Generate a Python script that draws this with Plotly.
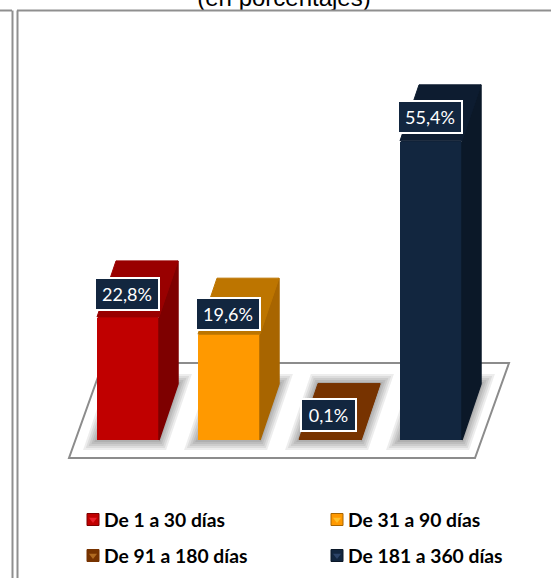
import plotly.graph_objects as go

categories = ["De 1 a 30 días", "De 31 a 90 días", "De 91 a 180 días", "De 181 a 360 días"]
values = [22.8, 19.6, 0.1, 55.4]
value_labels = ["22,8%", "19,6%", "0,1%", "55,4%"]
front_colors = ["#c00000", "#ff9900", "#773300", "#12263f"]
side_colors = ["#7e0000", "#a86500", "#773300", "#0b1828"]
top_colors = ["#990000", "#bd7500", "#773300", "#0d1c30"]
glint_colors = ["#e8202a", "#ffc02a", "#b06a20", "#2c4468"]
title_text = "(en porcentajes)"

W, H = 551, 578
X0_PX, STEP_PX = 128.0, 101.0     # centre of first bar, spacing
Y0_PX, UNIT_PX = 440.0, 5.4       # baseline, px per percentage point
BAR_W = 62.0 / STEP_PX
DX = 19.0 / STEP_PX               # pseudo-3D depth
DY = 56.0 / UNIT_PX


def px_x(p):
    return (p - X0_PX) / STEP_PX


def px_y(p):
    return (Y0_PX - p) / UNIT_PX


fig = go.Figure()
shapes = []

# floor
shapes.append(dict(type="path", layer="below", xref="x", yref="y",
                   path=f"M{px_x(69)},{px_y(458)} L{px_x(475)},{px_y(458)} L{px_x(509)},{px_y(363)} L{px_x(103)},{px_y(363)} Z",
                   fillcolor="white", line=dict(color="#8c8c8c", width=2)))

label_shift = [23, 20, 24, 24]
label_xshift = [-1.5, -1.5, -2, -1.5]
label_width = [62, 62, 53, 62]
annotations = []

for i, (cat, v) in enumerate(zip(categories, values)):
    x0, x1 = i - BAR_W / 2, i + BAR_W / 2
    foot = f"M{x0},0 L{x1},0 L{x1 + DX},{DY} L{x0 + DX},{DY} Z"
    for w in (20, 16, 12, 8, 4):
        shapes.append(dict(type="path", layer="below", xref="x", yref="y", path=foot,
                           fillcolor="rgba(0,0,0,0.07)",
                           line=dict(color="rgba(0,0,0,0.07)", width=w)))
    fig.add_trace(go.Scatter(
        x=[x1, x1 + DX, x1 + DX, x1, x1], y=[0, DY, v + DY, v, 0],
        mode="lines", fill="toself", fillcolor=side_colors[i],
        line=dict(color=side_colors[i], width=1.5), hoverinfo="skip", showlegend=False))
    fig.add_trace(go.Scatter(
        x=[x0, x1, x1 + DX, x0 + DX, x0], y=[v, v, v + DY, v + DY, v],
        mode="lines", fill="toself", fillcolor=top_colors[i],
        line=dict(color=top_colors[i], width=1), hoverinfo="skip", showlegend=False))
    fig.add_trace(go.Bar(x=[i], y=[v], width=BAR_W, name=cat, showlegend=False,
                         marker=dict(color=front_colors[i], cornerradius=3, line=dict(width=0))))
    annotations.append(dict(x=i, y=v, xref="x", yref="y", text=value_labels[i], showarrow=False,
                            xshift=label_xshift[i], yshift=label_shift[i],
                            width=label_width[i], height=30,
                            font=dict(family="Lato", size=18, color="white"),
                            bgcolor="#12263f", bordercolor="white", borderwidth=2, borderpad=0))

# legend
leg_x = [px_x(93), px_x(337), px_x(93), px_x(337)]
leg_y = [px_y(519.5), px_y(519.5), px_y(555.5), px_y(555.5)]
for i, cat in enumerate(categories):
    fig.add_trace(go.Scatter(x=[leg_x[i]], y=[leg_y[i]], mode="markers", hoverinfo="skip", showlegend=False,
                             marker=dict(symbol="square", size=12, color=front_colors[i],
                                         line=dict(color=side_colors[i], width=1))))
    fig.add_trace(go.Scatter(x=[leg_x[i]], y=[leg_y[i]], mode="markers", hoverinfo="skip", showlegend=False,
                             marker=dict(symbol="triangle-down", size=7, color=glint_colors[i], line=dict(width=0))))
    annotations.append(dict(x=leg_x[i], y=leg_y[i], xref="x", yref="y", text=f"<b>{cat}</b>",
                            showarrow=False, xanchor="left", xshift=8.5,
                            font=dict(family="Lato", size=19.3, color="black")))

# title, cut by the page top and by the frame line as in the reference
fig.add_trace(go.Scatter(x=[px_x(284)], y=[px_y(12)], mode="text", text=[title_text],
                         textposition="top center", cliponaxis=False, hoverinfo="skip", showlegend=False,
                         textfont=dict(family="Liberation Sans", size=24, color="black")))
shapes.append(dict(type="rect", xref="paper", yref="paper", layer="above",
                   x0=180 / W, x1=390 / W, y0=1 - 24 / H, y1=1 - 11 / H,
                   fillcolor="white", line=dict(width=0)))

# page frame
frame = "#8f8f8f"
for x0, y0, x1, y1 in [(0, 10.5, 12, 10.5), (12.5, 10.5, 12.5, 578), (17.5, 10.5, 17.5, 578), (17, 10.5, 551, 10.5)]:
    shapes.append(dict(type="line", xref="paper", yref="paper", layer="above",
                       x0=x0 / W, x1=x1 / W, y0=1 - y0 / H, y1=1 - y1 / H,
                       line=dict(color=frame, width=2)))

fig.update_layout(
    width=W, height=H, margin=dict(l=0, r=0, t=0, b=0),
    paper_bgcolor="white", plot_bgcolor="white", showlegend=False, bargap=0,
    xaxis=dict(visible=False, range=[px_x(0), px_x(W)], fixedrange=True),
    yaxis=dict(visible=False, range=[px_y(H), px_y(0)], fixedrange=True),
    shapes=shapes, annotations=annotations,
)
fig.write_html("out.html", config={"displayModeBar": False},
               post_script="document.body.style.margin='0';document.body.style.overflow='hidden';")
